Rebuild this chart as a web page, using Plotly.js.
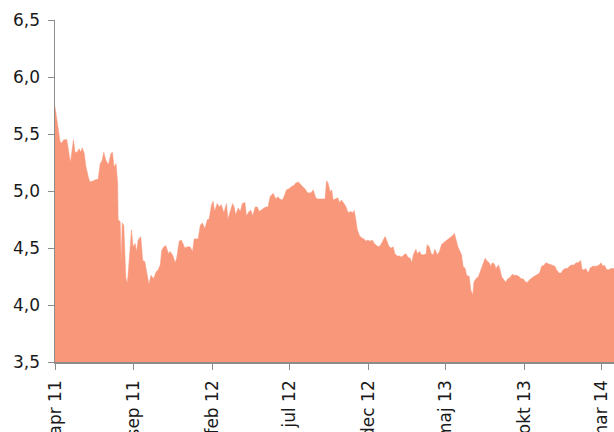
<!DOCTYPE html>
<html>
<head>
<meta charset="utf-8">
<script src="https://cdn.plot.ly/plotly-3.0.1.min.js"></script>
<style>html,body{margin:0;padding:0;background:#fff;}#chart{width:614px;height:432px;}</style>
</head>
<body>
<div id="chart"></div>
<script>
const dates = [
"2011-04-01","2011-04-05","2011-04-07","2011-04-11","2011-04-14","2011-04-18","2011-04-24","2011-04-27",
"2011-05-01","2011-05-07","2011-05-10","2011-05-14","2011-05-18","2011-05-21","2011-05-24","2011-05-28","2011-05-31",
"2011-06-05","2011-06-08","2011-06-15","2011-06-20","2011-06-24","2011-06-28",
"2011-07-02","2011-07-05","2011-07-09","2011-07-14","2011-07-19","2011-07-22","2011-07-25","2011-07-29",
"2011-08-01","2011-08-02","2011-08-06","2011-08-08","2011-08-10","2011-08-13","2011-08-17","2011-08-20","2011-08-24","2011-08-28","2011-08-31",
"2011-09-04","2011-09-07","2011-09-10","2011-09-15","2011-09-19","2011-09-23","2011-09-28",
"2011-10-01","2011-10-05","2011-10-10","2011-10-15","2011-10-19","2011-10-23","2011-10-26","2011-10-30",
"2011-11-03","2011-11-08","2011-11-11","2011-11-16","2011-11-21","2011-11-24","2011-11-29",
"2011-12-03","2011-12-06","2011-12-10","2011-12-15","2011-12-20","2011-12-25","2011-12-28",
"2012-01-02","2012-01-05","2012-01-09","2012-01-13","2012-01-18","2012-01-23","2012-01-26","2012-01-31",
"2012-02-03","2012-02-06","2012-02-11","2012-02-15","2012-02-19","2012-02-24","2012-02-29",
"2012-03-03","2012-03-06","2012-03-12","2012-03-15","2012-03-18","2012-03-23","2012-03-27","2012-03-31",
"2012-04-05","2012-04-08","2012-04-13","2012-04-17","2012-04-20","2012-04-25","2012-04-29",
"2012-05-03","2012-05-08","2012-05-12","2012-05-16","2012-05-20","2012-05-24","2012-05-27","2012-05-30",
"2012-06-04","2012-06-08","2012-06-12","2012-06-17","2012-06-21","2012-06-25","2012-06-30",
"2012-07-05","2012-07-10","2012-07-13","2012-07-18","2012-07-23","2012-07-26","2012-07-31",
"2012-08-04","2012-08-08","2012-08-13","2012-08-16","2012-08-21","2012-08-25","2012-08-29",
"2012-09-03","2012-09-08","2012-09-11","2012-09-14","2012-09-18","2012-09-21","2012-09-24","2012-09-29",
"2012-10-03","2012-10-06","2012-10-10","2012-10-15","2012-10-19","2012-10-23","2012-10-28",
"2012-11-01","2012-11-04","2012-11-07","2012-11-10","2012-11-14","2012-11-18","2012-11-23","2012-11-27","2012-11-30",
"2012-12-05","2012-12-09","2012-12-13","2012-12-18","2012-12-22","2012-12-26","2012-12-31",
"2013-01-03","2013-01-06","2013-01-11","2013-01-15","2013-01-19","2013-01-22","2013-01-27","2013-01-31",
"2013-02-04","2013-02-09","2013-02-13","2013-02-16","2013-02-21","2013-02-24","2013-02-27",
"2013-03-04","2013-03-07","2013-03-11","2013-03-15","2013-03-20","2013-03-24","2013-03-26","2013-03-30",
"2013-04-03","2013-04-07","2013-04-10","2013-04-15","2013-04-19","2013-04-23","2013-04-28",
"2013-05-01","2013-05-06","2013-05-11","2013-05-15","2013-05-18","2013-05-21","2013-05-25","2013-05-29",
"2013-06-01","2013-06-04","2013-06-08","2013-06-11","2013-06-16","2013-06-19","2013-06-23","2013-06-25","2013-06-29",
"2013-07-04","2013-07-08","2013-07-12","2013-07-17","2013-07-20","2013-07-25","2013-07-28","2013-07-31",
"2013-08-04","2013-08-07","2013-08-12","2013-08-15","2013-08-18","2013-08-21","2013-08-26","2013-08-30",
"2013-09-03","2013-09-08","2013-09-11","2013-09-16","2013-09-21","2013-09-25","2013-09-29",
"2013-10-04","2013-10-08","2013-10-11","2013-10-16","2013-10-20","2013-10-24","2013-10-28","2013-10-31",
"2013-11-04","2013-11-09","2013-11-12","2013-11-17","2013-11-22","2013-11-25","2013-11-30",
"2013-12-03","2013-12-08","2013-12-12","2013-12-16","2013-12-20","2013-12-24","2013-12-28",
"2014-01-01","2014-01-06","2014-01-10","2014-01-14","2014-01-19","2014-01-22","2014-01-26","2014-01-29",
"2014-02-03","2014-02-06","2014-02-11","2014-02-15","2014-02-19","2014-02-24","2014-02-28",
"2014-03-03","2014-03-06","2014-03-11","2014-03-15","2014-03-19","2014-03-25"
];
const values = [
5.74,5.62,5.54,5.43,5.42,5.45,5.45,5.37,
5.25,5.45,5.34,5.34,5.37,5.34,5.38,5.33,5.22,
5.12,5.08,5.09,5.10,5.10,5.24,
5.27,5.34,5.27,5.23,5.33,5.34,5.21,5.24,
5.07,4.75,4.73,4.37,4.72,4.70,4.24,4.19,4.42,4.66,4.51,
4.54,4.47,4.57,4.60,4.39,4.38,4.25,
4.18,4.26,4.23,4.29,4.31,4.35,4.48,4.51,
4.52,4.45,4.47,4.44,4.37,4.41,4.56,
4.57,4.54,4.50,4.51,4.51,4.47,4.58,
4.58,4.58,4.70,4.72,4.67,4.75,4.75,4.88,
4.91,4.82,4.89,4.86,4.88,4.81,4.89,
4.75,4.80,4.89,4.86,4.79,4.85,4.82,4.89,
4.90,4.78,4.82,4.83,4.78,4.86,4.86,
4.82,4.84,4.85,4.86,4.86,4.95,4.97,4.98,
4.93,4.95,4.93,4.92,4.96,5.01,5.02,
5.04,5.05,5.07,5.08,5.05,5.04,5.02,
4.99,4.98,4.99,5.01,4.94,4.93,4.93,
4.93,4.93,5.09,5.07,4.99,5.01,4.92,4.93,
4.94,4.90,4.92,4.89,4.86,4.81,4.82,
4.81,4.83,4.75,4.66,4.61,4.59,4.58,4.56,4.57,
4.56,4.57,4.54,4.52,4.51,4.53,4.57,
4.60,4.57,4.51,4.50,4.51,4.45,4.43,4.43,
4.42,4.44,4.45,4.42,4.41,4.37,4.44,
4.49,4.45,4.47,4.44,4.44,4.45,4.53,4.51,
4.45,4.44,4.49,4.44,4.47,4.53,4.55,
4.56,4.58,4.59,4.61,4.63,4.58,4.51,4.47,
4.44,4.34,4.32,4.26,4.25,4.13,4.09,4.20,4.23,
4.25,4.31,4.35,4.41,4.39,4.37,4.34,4.37,
4.36,4.32,4.35,4.31,4.25,4.23,4.20,4.23,
4.24,4.27,4.26,4.26,4.25,4.23,4.23,
4.20,4.20,4.22,4.24,4.25,4.26,4.27,4.28,
4.34,4.35,4.37,4.36,4.35,4.35,4.34,
4.31,4.28,4.28,4.31,4.32,4.32,4.34,
4.35,4.35,4.37,4.37,4.39,4.31,4.31,4.32,
4.28,4.32,4.34,4.34,4.34,4.35,4.37,
4.34,4.35,4.31,4.31,4.32,4.32
];
const tickDates = ["2011-04-01","2011-09-01","2012-02-01","2012-07-01","2012-12-01","2013-05-01","2013-10-01","2014-03-01"];
const tickLabels = ["apr 11","sep 11","feb 12","jul 12","dec 12","maj 13","okt 13","mar 14"];
const yTicks = [3.5,4.0,4.5,5.0,5.5,6.0,6.5];

const fillColor = "#F9977A";
const trace = {
  x: dates, y: values, type: "scatter", mode: "lines",
  fill: "tozeroy", fillcolor: fillColor,
  line: {color: fillColor, width: 0.5, shape: "linear"},
  hoverinfo: "skip"
};
const axisFont = {family: "DejaVu Sans, sans-serif", size: 17, color: "#1a1a1a"};
const layout = {
  width: 614, height: 432,
  margin: {l: 55, r: 0, t: 20, b: 70, pad: 0},
  paper_bgcolor: "#ffffff", plot_bgcolor: "#ffffff",
  showlegend: false,
  separators: ",.",
  xaxis: {
    type: "date",
    range: ["2011-04-01", "2014-03-25"],
    tickmode: "array", tickvals: tickDates, ticktext: tickLabels,
    tickangle: -90, ticks: "outside", ticklen: 6, tickwidth: 1, tickcolor: "#8c8c8c",
    showline: true, linecolor: "#8c8c8c", linewidth: 1.5,
    showgrid: false, zeroline: false,
    tickfont: axisFont, ticklabelstandoff: 4
  },
  yaxis: {
    range: [3.5, 6.5],
    tickmode: "array", tickvals: yTicks, tickformat: ".1f",
    ticks: "outside", ticklen: 6, tickwidth: 1, tickcolor: "#8c8c8c",
    showline: true, linecolor: "#8c8c8c", linewidth: 1.5,
    showgrid: false, zeroline: false,
    tickfont: axisFont, ticklabelstandoff: 4
  }
};
Plotly.newPlot("chart", [trace], layout, {displayModeBar: false, staticPlot: true});
</script>
</body>
</html>
